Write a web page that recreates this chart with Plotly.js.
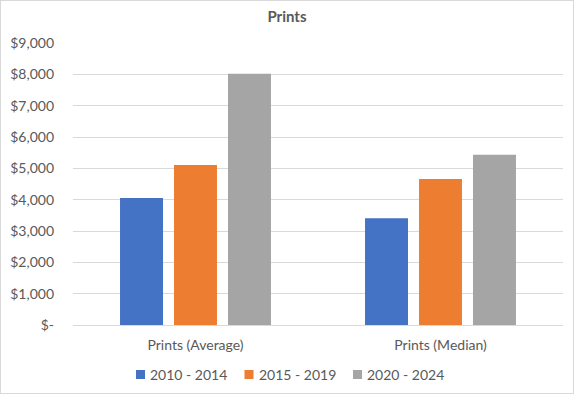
<!DOCTYPE html>
<html>
<head>
<meta charset="utf-8">
<script src="https://cdn.plot.ly/plotly-3.0.1.min.js"></script>
<style>
html,body{margin:0;padding:0;background:#fff;}
#chart{width:574px;height:394px;box-sizing:border-box;border:1px solid #d9d9d9;}
</style>
</head>
<body>
<div id="chart"></div>
<script>
const categories = ["Prints (Average)", "Prints (Median)"];
const seriesNames = ["2010 - 2014", "2015 - 2019", "2020 - 2024"];
const values2010_2014 = [4050, 3410];
const values2015_2019 = [5110, 4660];
const values2020_2024 = [8020, 5430];
const seriesColors = ["#4472C4", "#ED7D31", "#A5A5A5"];
const yTickVals = [0, 1000, 2000, 3000, 4000, 5000, 6000, 7000, 8000, 9000];
const yTickText = ["$-", "$1,000", "$2,000", "$3,000", "$4,000", "$5,000", "$6,000", "$7,000", "$8,000", "$9,000"];

const allValues = [values2010_2014, values2015_2019, values2020_2024];
const traces = allValues.map((vals, i) => ({
  type: "bar",
  name: seriesNames[i],
  x: categories,
  y: vals,
  marker: {color: seriesColors[i]},
  hoverinfo: "none",
  showlegend: false
}));

const W = 572, H = 392;
const M = {l: 72, r: 10, t: 42, b: 68};
const plotW = W - M.l - M.r, plotH = H - M.t - M.b;
const font = {family: "Lato, 'Open Sans', sans-serif", color: "#595959", size: 14};

// custom legend laid out in pixels, converted to paper coordinates
const legendStartX = 135, legendStep = 108.5, legendY = 373, keySize = 9, keyGap = 3;
const px2x = p => (p - M.l) / plotW;
const py2y = p => (H - M.b - p) / plotH;
const shapes = [], annotations = [];
seriesNames.forEach((name, i) => {
  const x0 = legendStartX + i * legendStep;
  shapes.push({type: "rect", xref: "paper", yref: "paper",
    x0: px2x(x0), x1: px2x(x0 + keySize), y0: py2y(legendY - keySize / 2 + 0.5), y1: py2y(legendY + keySize / 2 + 0.5),
    fillcolor: seriesColors[i], line: {width: 0}});
  annotations.push({xref: "paper", yref: "paper", x: px2x(x0 + keySize + keyGap), y: py2y(legendY),
    xanchor: "left", yanchor: "middle", showarrow: false, text: name, font: font});
});

const layout = {
  width: W,
  height: H,
  margin: M,
  paper_bgcolor: "#ffffff",
  plot_bgcolor: "#ffffff",
  font: font,
  title: {text: "<b>Prints</b>", font: {family: font.family, size: 15, color: "#595959"}, x: 0.5, xanchor: "center", xref: "container", y: 1 - 16/392, yanchor: "middle", yref: "container"},
  barmode: "group",
  bargap: 0.339,
  bargroupgap: 0.204,
  showlegend: false,
  shapes: shapes,
  annotations: annotations,
  xaxis: {type: "category", showgrid: false, showline: true, linecolor: "#d9d9d9", linewidth: 1, ticks: "", tickfont: font, ticklabelstandoff: 7},
  yaxis: {range: [0, 9000], tickvals: yTickVals, ticktext: yTickText, showgrid: true, gridcolor: "#d9d9d9", gridwidth: 1, zeroline: false, showline: false, ticks: "", tickfont: font, ticklabelstandoff: 18}
};

Plotly.newPlot("chart", traces, layout, {displayModeBar: false, staticPlot: true});
</script>
</body>
</html>
